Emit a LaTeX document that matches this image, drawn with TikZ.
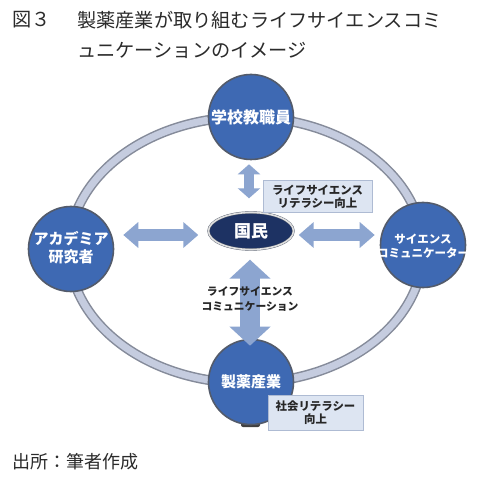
\documentclass[tikz,border=0pt]{standalone}
\usepackage{fontspec}
\setmainfont{Noto Sans CJK JP}
\usetikzlibrary{shapes.geometric,arrows.meta,calc}
\definecolor{circblue}{HTML}{3E69B3}
\definecolor{circrim}{HTML}{535B6B}
\definecolor{navy}{HTML}{1D3263}
\definecolor{ringedge}{HTML}{858B9A}
\definecolor{ringfill}{HTML}{C5CCDF}
\definecolor{arrowblue}{HTML}{8CA5D0}
\definecolor{boxfill}{HTML}{DDE5F2}
\definecolor{boxedge}{HTML}{AEBBD3}
\definecolor{titlegray}{HTML}{2B2B2B}
\tikzset{
  circ/.style={circle, minimum size=85pt, inner sep=0pt, fill=circblue, draw=circrim, line width=1.6pt},
  circtext/.style={text=white, align=center, inner sep=0pt, font=\bfseries},
  labelbox/.style={rectangle, fill=boxfill, draw=boxedge, line width=1pt, align=center, inner sep=0pt,
     font=\bfseries\fontsize{11.4}{13.5}\selectfont, text=black!85},
  titletext/.style={anchor=west, inner sep=0pt, text=titlegray, font=\fontsize{19.2}{19.2}\selectfont},
}
\begin{document}
\begin{tikzpicture}[x=1pt,y=1pt]
\useasboundingbox (0,0) rectangle (500,-486);
\fill[white] (0,0) rectangle (500,-486);

% title
\node[titletext] (t0) at (12,-20) {図３};
\node[titletext] (t1) at (77,-20) {製薬産業が取り組むライフサイエンスコミ};
\node[titletext] (t2) at (77,-50) {ュニケーションのイメージ};

% ring
\draw[ringedge, line width=10pt] (246,-250) ellipse [x radius=177, y radius=133];
\draw[ringfill, line width=7pt] (246,-250) ellipse [x radius=177, y radius=133];

% base under bottom circle
\fill[black!75, rounded corners=2pt] (241,-419) rectangle (260,-427);

% circles
\node[circ] (top) at (251,-117) {};
\node[circ] (lt) at (71,-249) {};
\node[circ] (rt) at (423,-245) {};
\node[circ] (bot) at (251,-382) {};
\node[circtext, font=\bfseries\fontsize{16}{16}\selectfont] (toptx) at (top) {学校教職員};
\node[circtext, font=\bfseries\fontsize{15}{18}\selectfont] (lttx) at (71,-248) {アカデミア\\研究者};
\node[circtext, font=\bfseries\fontsize{11.5}{14}\selectfont] (rttx) at (423,-246) {サイエンス\\コミュニケーター};
\node[circtext, font=\bfseries\fontsize{15}{15}\selectfont] (bottx) at (251,-382) {製薬産業};

% center
\node[ellipse, minimum width=85pt, minimum height=37pt, inner sep=0pt, fill=navy, draw=circrim, double=black!12, double distance=1.6pt,
      text=white, font=\bfseries\fontsize{17}{17}\selectfont] (min) at (251,-231) {国民};

% arrows
\draw[arrowblue, line width=12pt, {Triangle[width=25pt,length=15pt]}-{Triangle[width=25pt,length=15pt]}]
  ($(lt.east |- min.west)+(9,-4)$) -- ($(min.west)+(-10,-4)$);
\draw[arrowblue, line width=12pt, {Triangle[width=25pt,length=15pt]}-{Triangle[width=25pt,length=15pt]}]
  ($(min.east)+(5,-4)$) -- ($(rt.west |- min.east)+(-5,-4)$);
\draw[arrowblue, line width=10pt, {Triangle[width=22pt,length=10pt]}-{Triangle[width=22pt,length=10pt]}]
  ($(top.south)+(-2,-4)$) -- ($(min.north)+(-2,14)$);
\draw[arrowblue, line width=20pt, {Triangle[width=40pt,length=19pt]}-{Triangle[width=40pt,length=19pt]}]
  ($(min.south)+(-1,-10)$) -- ($(bot.north)+(-1,-7)$);

% labels
\node[labelbox, minimum width=109pt, minimum height=32pt] (lab1) at (317.5,-197) {ライフサイエンス\\リテラシー向上};
\node[labelbox, minimum width=95pt, minimum height=35pt] (lab2) at (315.5,-412.5) {社会リテラシー\\向上};
\node[align=center, inner sep=0pt, text=black!85, font=\bfseries\fontsize{10.8}{15}\selectfont] (lab3) at (250,-299) {ライフサイエンス\\コミュニケーション};

% footer
\node[titletext, font=\fontsize{18}{18}\selectfont] (src) at (12,-462) {出所：筆者作成};
\end{tikzpicture}
\end{document}
